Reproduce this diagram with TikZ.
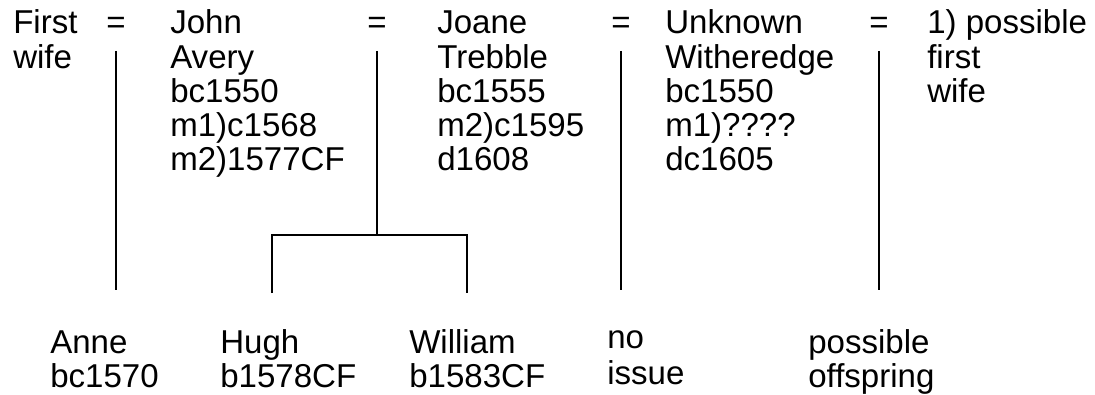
\documentclass[tikz,border=0pt]{standalone}
\usepackage{fontspec}
\setmainfont{Liberation Sans}
\usepackage{tikz}

\newcommand{\stack}[1]{\begin{tabular}[t]{@{}l@{}}#1\end{tabular}}

\tikzset{
  person/.style={anchor=base west, inner sep=0pt,
    font=\fontsize{23.5pt}{24.2pt}\selectfont},
  wed/.style={anchor=base, inner sep=0pt,
    font=\fontsize{23.5pt}{24.2pt}\selectfont},
  kin/.style={draw, line width=2.1pt},
}

\begin{document}
\begin{tikzpicture}[x=0.025cm, y=-0.025cm]
\useasboundingbox (0,0) rectangle (1095,394);

% top row: the couples
\node[person] (fw) at (13, 34) {\stack{First\\wife}};
\node[wed] (eqa) at (116, 34) {=};
\node[person] (john) at (170, 34) {\stack{John\\Avery\\bc1550\\m1)c1568\\m2)1577CF}};
\node[wed] (eqb) at (377, 34) {=};
\node[person] (joane) at (437, 34) {\stack{Joane\\Trebble\\bc1555\\m2)c1595\\d1608}};
\node[wed] (eqc) at (621, 34) {=};
\node[person] (unk) at (665, 34) {\stack{Unknown\\Witheredge\\bc1550\\m1)????\\dc1605}};
\node[wed] (eqd) at (879, 34) {=};
\node[person] (pfw) at (927, 34) {\stack{1) possible\\first\\wife}};

% bottom row: the children
\node[person] (anne) at (50, 353) {\stack{Anne\\bc1570}};
\node[person] (hugh) at (220, 353) {\stack{Hugh\\b1578CF}};
\node[person] (will) at (409, 353) {\stack{William\\b1583CF}};
\node[person] (noi) at (607, 348) {\stack{no\\[1.5pt]issue}};
\node[person] (off) at (808, 353) {\stack{possible\\offspring}};

% descent lines
\coordinate (sib) at (377, 235);
\draw[kin] (eqa.base) ++(0,17) -- ++(0,239);
\draw[kin, line width=1.5pt] (eqb.base) ++(0,17) -- (sib);
\draw[kin] (272, 293) |- (sib) -| (467, 293);
\draw[kin] (eqc.base) ++(0,17) -- ++(0,239);
\draw[kin] (eqd.base) ++(0,17) -- ++(0,239);

\end{tikzpicture}
\end{document}
